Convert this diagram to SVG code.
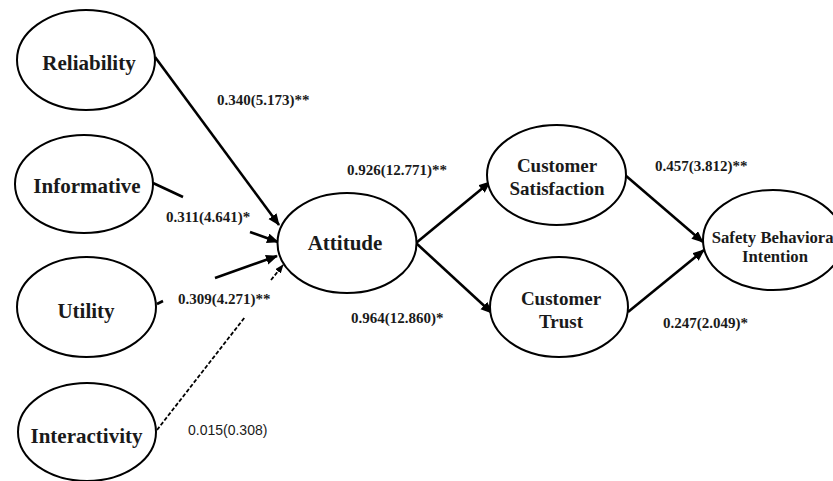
<svg xmlns="http://www.w3.org/2000/svg" width="833" height="481" viewBox="0 0 833 481">
  <style>
    .node ellipse { fill: #ffffff; stroke: #000000; stroke-width: 2; }
    .name { font-family: "Liberation Serif", "Times New Roman", serif; font-weight: bold; fill: #1a1a1a; text-anchor: middle; }
    .big { font-size: 21px; }
    .mid { font-size: 19px; }
    .small { font-size: 16.7px; }
    .path { fill: none; stroke: #000000; stroke-width: 2.6; }
    .dash { fill: none; stroke: #000000; stroke-width: 1.8; stroke-dasharray: 4 2; }
    .coef { font-family: "Liberation Serif", "Times New Roman", serif; font-weight: bold; font-size: 15px; fill: #1a1a1a; }
    .ns { font-family: "Liberation Sans", Arial, sans-serif; font-size: 14px; fill: #1a1a1a; }
  </style>
  <defs>
    <marker id="head" markerUnits="userSpaceOnUse" markerWidth="14" markerHeight="12" refX="11" refY="5" orient="auto">
      <path d="M0,0 L12,5 L0,10 z" fill="#000000"/>
    </marker>
    <marker id="headSmall" markerUnits="userSpaceOnUse" markerWidth="10" markerHeight="10" refX="8" refY="3.5" orient="auto">
      <path d="M0,0 L9,3.5 L0,7 z" fill="#000000"/>
    </marker>
  </defs>
  <rect width="833" height="481" fill="#ffffff"/>

  <g id="connectors">
    <path class="path" d="M155,57 L279,225" marker-end="url(#head)"/>
    <path class="path" d="M153,183 L183,197"/>
    <path class="path" d="M250,232 L278,242" marker-end="url(#head)"/>
    <path class="path" d="M157,304 L163,301"/>
    <path class="path" d="M215,278 L277,256" marker-end="url(#head)"/>
    <path class="dash" d="M157,430 L245,317"/>
    <path class="dash" d="M271,280 L283,265" marker-end="url(#headSmall)"/>
    <path class="path" d="M416,243 L490,182" marker-end="url(#head)"/>
    <path class="path" d="M416,243 L492,313" marker-end="url(#head)"/>
    <path class="path" d="M625,175 L703,242" marker-end="url(#head)"/>
    <path class="path" d="M628,312 L704,250" marker-end="url(#head)"/>
  </g>

  <g id="labels">
    <text class="coef" x="217" y="105">0.340(5.173)**</text>
    <text class="coef" x="166" y="222">0.311(4.641)*</text>
    <text class="coef" x="178" y="304">0.309(4.271)**</text>
    <text class="ns" x="188" y="435">0.015(0.308)</text>
    <text class="coef" x="347" y="175">0.926(12.771)**</text>
    <text class="coef" x="351" y="323">0.964(12.860)*</text>
    <text class="coef" x="655" y="171">0.457(3.812)**</text>
    <text class="coef" x="663" y="328">0.247(2.049)*</text>
  </g>

  <g id="reliability" class="node">
    <ellipse cx="86" cy="60" rx="69" ry="50"/>
    <text class="name big" x="89" y="70">Reliability</text>
  </g>
  <g id="informative" class="node">
    <ellipse cx="84" cy="184" rx="69" ry="49"/>
    <text class="name big" x="87" y="193">Informative</text>
  </g>
  <g id="utility" class="node">
    <ellipse cx="86.5" cy="307" rx="69.5" ry="50"/>
    <text class="name big" x="86" y="318">Utility</text>
  </g>
  <g id="interactivity" class="node">
    <ellipse cx="87" cy="432" rx="69" ry="49"/>
    <text class="name big" x="86.5" y="443">Interactivity</text>
  </g>
  <g id="attitude" class="node">
    <ellipse cx="347" cy="243" rx="69.5" ry="50"/>
    <text class="name big" x="345" y="250">Attitude</text>
  </g>
  <g id="satisfaction" class="node">
    <ellipse cx="556.5" cy="175" rx="69.5" ry="50"/>
    <text class="name mid" x="557" y="172">Customer</text>
    <text class="name mid" x="557" y="195">Satisfaction</text>
  </g>
  <g id="trust" class="node">
    <ellipse cx="559" cy="307" rx="69" ry="50"/>
    <text class="name mid" x="561" y="305">Customer</text>
    <text class="name mid" x="561" y="328">Trust</text>
  </g>
  <g id="intention" class="node">
    <ellipse cx="773" cy="240" rx="70" ry="50"/>
    <text class="name small" x="775" y="243">Safety Behavioral</text>
    <text class="name small" x="775" y="262">Intention</text>
  </g>
</svg>
